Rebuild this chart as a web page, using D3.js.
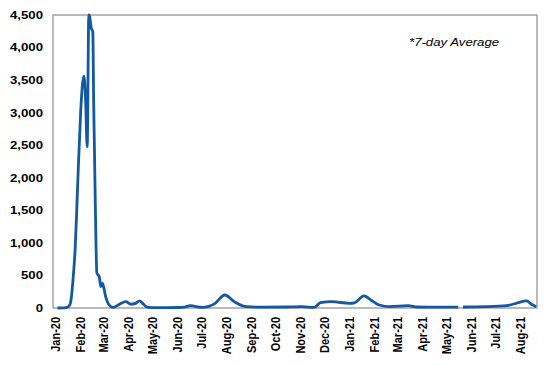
<!DOCTYPE html>
<html><head><meta charset="utf-8">
<script src="https://cdn.jsdelivr.net/npm/d3@7"></script>
<style>
html,body{margin:0;padding:0;background:#fff;}
svg{display:block;font-family:Arial,"Liberation Sans",sans-serif;}
</style></head>
<body>
<svg id="chart" width="548" height="366"></svg>
<script>
const dates = ["2020-01-04","2020-01-12","2020-01-16","2020-01-19","2020-01-21","2020-01-23","2020-01-25","2020-01-26","2020-01-28","2020-01-30","2020-02-02","2020-02-04","2020-02-06","2020-02-08","2020-02-10","2020-02-12","2020-02-13","2020-02-15","2020-02-17","2020-02-18","2020-02-20","2020-02-22","2020-02-25","2020-02-27","2020-02-29","2020-03-04","2020-03-08","2020-03-13","2020-03-21","2020-03-29","2020-04-04","2020-04-10","2020-04-15","2020-04-21","2020-04-25","2020-05-10","2020-06-01","2020-06-10","2020-06-17","2020-07-02","2020-07-18","2020-07-30","2020-08-11","2020-08-26","2020-09-15","2020-10-15","2020-11-03","2020-11-18","2020-11-26","2020-12-10","2021-01-01","2021-01-07","2021-01-19","2021-01-29","2021-02-07","2021-02-20","2021-03-15","2021-03-26","2021-04-20","2021-05-16","2021-05-18","2021-05-22","2021-06-20","2021-07-15","2021-07-27","2021-08-09","2021-08-15","2021-08-21"];
const values = [0,2,8,40,130,380,700,900,1500,2170,3040,3420,3560,3200,2475,4500,4480,4300,4240,3200,1660,540,480,330,380,170,50,10,57,97,60,72,108,46,10,5,8,15,35,10,72,200,97,20,12,15,20,10,82,97,72,80,185,112,46,20,35,15,12,12,null,15,20,35,72,108,57,20];
const yTicks = [0,500,1000,1500,2000,2500,3000,3500,4000,4500];
const monthTicks = ["Jan-20","Feb-20","Mar-20","Apr-20","May-20","Jun-20","Jul-20","Aug-20","Sep-20","Oct-20","Nov-20","Dec-20","Jan-21","Feb-21","Mar-21","Apr-21","May-21","Jun-21","Jul-21","Aug-21"];
const note = "*7-day Average";

const parse = d3.timeParse("%Y-%m-%d");
const data = dates.map((d,i)=>({date:parse(d), v:values[i]}));
const svg = d3.select("#chart");
const L=53,R=537,T=15,B=308;
const x = d3.scaleTime().domain([new Date(2019,11,29,12), new Date(2021,7,22)]).range([L,R]);
const y = d3.scaleLinear().domain([0,4500]).range([B,T]);
const SX = 1.2;

// frame
svg.append("rect").attr("x",L).attr("y",T).attr("width",R-L).attr("height",B-T)
  .attr("fill","none").attr("stroke","#8c8c8c").attr("stroke-width",1.2);

// y labels
svg.append("g").selectAll("text").data(yTicks).join("text")
  .attr("transform",d=>`translate(43,${y(d)}) scale(${SX},1)`)
  .attr("text-anchor","end").attr("dy","0.35em")
  .attr("font-size",11).attr("font-weight","bold").attr("fill","#000")
  .text(d=>d3.format(",")(d));

// x labels
const mparse = d3.timeParse("%b-%y");
svg.append("g").selectAll("text").data(monthTicks).join("text")
  .attr("transform",d=>`translate(${x(mparse(d))},317) scale(${SX},1) rotate(-90)`)
  .attr("text-anchor","end").attr("dy","0.35em")
  .attr("font-size",11).attr("font-weight","bold").attr("fill","#000")
  .text(d=>d);

// line
const line = d3.line().defined(d=>d.v!==null).x(d=>x(d.date)).y(d=>y(d.v)).curve(d3.curveMonotoneX);
svg.append("path").datum(data).attr("d",line).attr("fill","none")
  .attr("stroke","#1258a2").attr("stroke-width",2.8).attr("stroke-linejoin","round");

// note
svg.append("text").attr("transform",`translate(409,46) scale(${SX},1)`)
  .attr("font-size",11).attr("font-style","italic").attr("fill","#000").text(note);
</script>
</body></html>
